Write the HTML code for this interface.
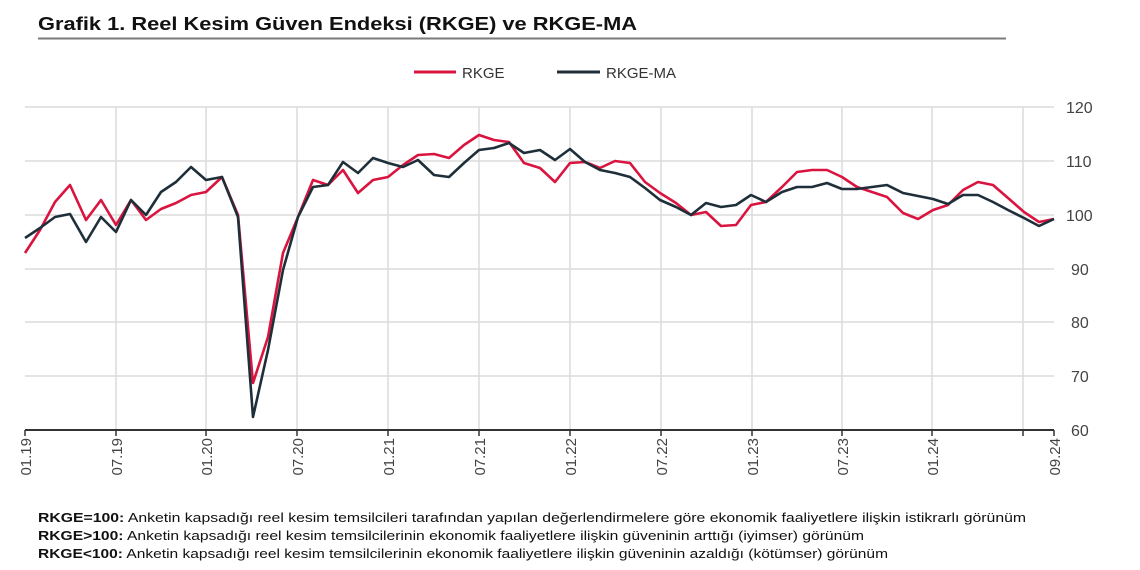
<!DOCTYPE html>
<html><head><meta charset="utf-8"><style>
html,body{margin:0;padding:0;background:#fff;width:1140px;height:570px;overflow:hidden}
svg{display:block;font-family:"Liberation Sans",sans-serif}
</style></head><body>
<svg width="1140" height="570" viewBox="0 0 1140 570" xmlns="http://www.w3.org/2000/svg">
<text x="38" y="30" font-size="18" font-weight="bold" fill="#111" textLength="599" lengthAdjust="spacingAndGlyphs">Grafik 1. Reel Kesim Güven Endeksi (RKGE) ve RKGE-MA</text>
<line x1="38" y1="38.5" x2="1006" y2="38.5" stroke="#7a7a7a" stroke-width="2"/>
<line x1="414" y1="72" x2="456" y2="72" stroke="#d9143f" stroke-width="3"/>
<text x="462" y="78" font-size="15" fill="#333">RKGE</text>
<line x1="557" y1="72" x2="600" y2="72" stroke="#1f2f3a" stroke-width="3"/>
<text x="606" y="78" font-size="15" fill="#333">RKGE-MA</text>
<g stroke="#dcdcdc" stroke-width="1.5">
<line x1="25" y1="107" x2="1054" y2="107"/>
<line x1="25" y1="161" x2="1054" y2="161"/>
<line x1="25" y1="215" x2="1054" y2="215"/>
<line x1="25" y1="269" x2="1054" y2="269"/>
<line x1="25" y1="322" x2="1054" y2="322"/>
<line x1="25" y1="376" x2="1054" y2="376"/>
<line x1="116" y1="107" x2="116" y2="430"/>
<line x1="206" y1="107" x2="206" y2="430"/>
<line x1="297" y1="107" x2="297" y2="430"/>
<line x1="388" y1="107" x2="388" y2="430"/>
<line x1="479" y1="107" x2="479" y2="430"/>
<line x1="570" y1="107" x2="570" y2="430"/>
<line x1="661" y1="107" x2="661" y2="430"/>
<line x1="752" y1="107" x2="752" y2="430"/>
<line x1="842" y1="107" x2="842" y2="430"/>
<line x1="932" y1="107" x2="932" y2="430"/>
<line x1="1023" y1="107" x2="1023" y2="430"/>
</g>
<g font-size="16" fill="#444">
<text x="1066" y="113">120</text><text x="1066" y="167">110</text><text x="1066" y="221">100</text>
<text x="1071" y="275">90</text><text x="1071" y="328">80</text><text x="1071" y="382">70</text><text x="1071" y="436">60</text>
</g>
<line x1="25" y1="430" x2="1054" y2="430" stroke="#333" stroke-width="2"/>
<g stroke="#333" stroke-width="1.5">
<line x1="25" y1="430" x2="25" y2="436"/><line x1="116" y1="430" x2="116" y2="436"/><line x1="206" y1="430" x2="206" y2="436"/><line x1="297" y1="430" x2="297" y2="436"/><line x1="388" y1="430" x2="388" y2="436"/><line x1="479" y1="430" x2="479" y2="436"/><line x1="570" y1="430" x2="570" y2="436"/><line x1="661" y1="430" x2="661" y2="436"/><line x1="752" y1="430" x2="752" y2="436"/><line x1="842" y1="430" x2="842" y2="436"/><line x1="932" y1="430" x2="932" y2="436"/><line x1="1023" y1="430" x2="1023" y2="436"/><line x1="1054" y1="430" x2="1054" y2="436"/>
</g>
<g font-size="15" fill="#444" text-anchor="end">
<text transform="translate(31,438) rotate(-90)">01.19</text>
<text transform="translate(122,438) rotate(-90)">07.19</text>
<text transform="translate(212,438) rotate(-90)">01.20</text>
<text transform="translate(303,438) rotate(-90)">07.20</text>
<text transform="translate(394,438) rotate(-90)">01.21</text>
<text transform="translate(485,438) rotate(-90)">07.21</text>
<text transform="translate(576,438) rotate(-90)">01.22</text>
<text transform="translate(667,438) rotate(-90)">07.22</text>
<text transform="translate(758,438) rotate(-90)">01.23</text>
<text transform="translate(848,438) rotate(-90)">07.23</text>
<text transform="translate(938,438) rotate(-90)">01.24</text>
<text transform="translate(1060,438) rotate(-90)">09.24</text>
</g>
<polyline fill="none" stroke="#d9143f" stroke-width="2.6" stroke-linejoin="round" points="25,253 40,230 55,202 70,185 86,220 101,200 116,225 131,200 146,220 161,209 176,203 191,195 206,192 222,177 238,215 253,383 268,337 283,253 298,217 313,180 328,185 343,170 358,193 373,180 388,177 403,165 418,155 434,154 449,158 464,145 479,135 494,140 509,142 524,163 540,168 555,182 570,163 585,162 600,168 615,161 630,163 645,182 660,193 676,203 691,215 706,212 721,226 736,225 751,205 766,202 782,187 797,172 812,170 827,170 842,177 857,187 872,192 887,197 903,213 918,219 933,210 948,205 963,190 978,182 993,185 1008,198 1024,212 1039,222 1054,219"/>
<polyline fill="none" stroke="#1f2f3a" stroke-width="2.6" stroke-linejoin="round" points="25,238 40,228 55,217 70,214 86,242 101,217 116,232 131,200 146,215 161,192 176,182 191,167 206,180 222,177 238,217 253,417 268,350 283,270 298,217 313,187 328,185 343,162 358,173 373,158 388,163 403,167 418,160 434,175 449,177 464,163 479,150 494,148 509,143 524,153 540,150 555,160 570,149 585,162 600,170 615,173 630,177 645,188 660,200 676,207 691,215 706,203 721,207 736,205 751,195 766,202 782,192 797,187 812,187 827,183 842,189 857,189 872,187 887,185 903,193 918,196 933,199 948,204 963,195 978,195 993,202 1008,210 1024,218 1039,226 1054,219"/>
<g font-size="13" fill="#111">
<text x="38" y="522" textLength="988" lengthAdjust="spacingAndGlyphs"><tspan font-weight="bold">RKGE=100:</tspan> Anketin kapsadığı reel kesim temsilcileri tarafından yapılan değerlendirmelere göre ekonomik faaliyetlere ilişkin istikrarlı görünüm</text>
<text x="38" y="540" textLength="826" lengthAdjust="spacingAndGlyphs"><tspan font-weight="bold">RKGE&gt;100:</tspan> Anketin kapsadığı reel kesim temsilcilerinin ekonomik faaliyetlere ilişkin güveninin arttığı (iyimser) görünüm</text>
<text x="38" y="558" textLength="850" lengthAdjust="spacingAndGlyphs"><tspan font-weight="bold">RKGE&lt;100:</tspan> Anketin kapsadığı reel kesim temsilcilerinin ekonomik faaliyetlere ilişkin güveninin azaldığı (kötümser) görünüm</text>
</g>
</svg>
</body></html>
